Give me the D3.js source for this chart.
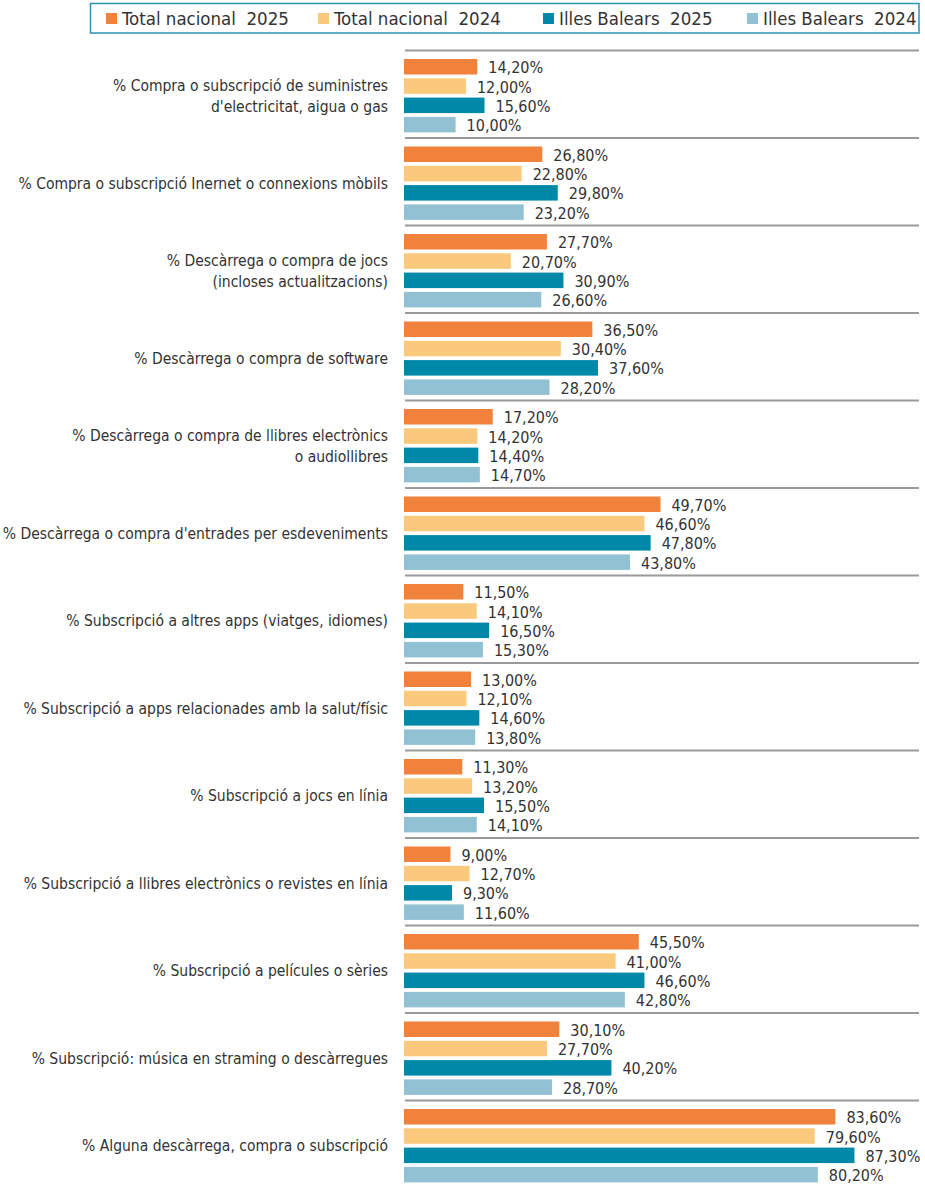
<!DOCTYPE html>
<html>
<head>
<meta charset="utf-8">
<script src="https://cdn.jsdelivr.net/npm/d3@7/dist/d3.min.js"></script>
<style>
  html, body { margin: 0; padding: 0; background: #fff; }
  svg text { font-family: "Liberation Sans Narrow", "DejaVu Sans Condensed", "Arial Narrow", sans-serif; fill: #333; }
</style>
</head>
<body>
<svg id="chart" width="925" height="1185"></svg>
<script>
// Categories (each label may wrap onto two lines)
const categories = [
  ["% Compra o subscripció de suministres", "d'electricitat, aigua o gas"],
  ["% Compra o subscripció Inernet o connexions mòbils"],
  ["% Descàrrega o compra de jocs", "(incloses actualitzacions)"],
  ["% Descàrrega o compra de software"],
  ["% Descàrrega o compra de llibres electrònics", "o audiollibres"],
  ["% Descàrrega o compra d'entrades per esdeveniments"],
  ["% Subscripció a altres apps (viatges, idiomes)"],
  ["% Subscripció a apps relacionades amb la salut/físic"],
  ["% Subscripció a jocs en línia"],
  ["% Subscripció a llibres electrònics o revistes en línia"],
  ["% Subscripció a películes o sèries"],
  ["% Subscripció: música en straming o descàrregues"],
  ["% Alguna descàrrega, compra o subscripció"]
];

const seriesNames = ["Total nacional  2025", "Total nacional  2024", "Illes Balears  2025", "Illes Balears  2024"];
const seriesColors = ["#F0823C", "#FBC97B", "#0088A9", "#92C1D3"];

const nacional2025 = [14.2, 26.8, 27.7, 36.5, 17.2, 49.7, 11.5, 13.0, 11.3, 9.0, 45.5, 30.1, 83.6];
const nacional2024 = [12.0, 22.8, 20.7, 30.4, 14.2, 46.6, 14.1, 12.1, 13.2, 12.7, 41.0, 27.7, 79.6];
const balears2025  = [15.6, 29.8, 30.9, 37.6, 14.4, 47.8, 16.5, 14.6, 15.5, 9.3, 46.6, 40.2, 87.3];
const balears2024  = [10.0, 23.2, 26.6, 28.2, 14.7, 43.8, 15.3, 13.8, 14.1, 11.6, 42.8, 28.7, 80.2];

const seriesValues = [nacional2025, nacional2024, balears2025, balears2024];

const svg = d3.select("#chart");

const plotLeft = 404;
const x = d3.scaleLinear().domain([0, 100]).range([plotLeft, plotLeft + 516]);

const groupIdx = d3.range(categories.length);
const y = d3.scaleBand().domain(groupIdx).range([50, 50 + 87.5 * categories.length]).padding(0);
const ySub = d3.scaleBand().domain(d3.range(4)).range([9, 82.4]).paddingInner(0.197).paddingOuter(0);

const fmt = v => d3.format(".2f")(v).replace(".", ",") + "%";

// Separators at the top of every group
svg.append("g").selectAll("line").data(groupIdx).join("line")
  .attr("x1", plotLeft + 1).attr("x2", 919)
  .attr("y1", d => y(d) + 0.5).attr("y2", d => y(d) + 0.5)
  .attr("stroke", "#9a9a9a").attr("stroke-width", 2);

// Groups
const groups = svg.append("g").selectAll("g").data(groupIdx).join("g")
  .attr("transform", d => `translate(0,${y(d)})`);

const barData = i => seriesValues.map((vals, s) => ({ s, v: vals[i] }));

groups.selectAll("rect").data(barData).join("rect")
  .attr("x", x(0))
  .attr("y", d => ySub(d.s))
  .attr("width", d => x(d.v) - x(0))
  .attr("height", ySub.bandwidth())
  .attr("fill", d => seriesColors[d.s]);

groups.selectAll("text.val").data(barData).join("text")
  .attr("class", "val")
  .attr("x", d => x(d.v) + 11)
  .attr("y", d => ySub(d.s) + ySub.bandwidth() / 2 + 1)
  .attr("dy", "0.35em")
  .attr("font-size", 16)
  .text(d => fmt(d.v));

// Category labels
const centre = ySub(0) + (ySub(3) + ySub.bandwidth() - ySub(0)) / 2;
groups.append("text")
  .attr("class", "cat")
  .attr("text-anchor", "end")
  .attr("font-size", 15.5)
  .each(function(d) {
    const lines = categories[d];
    const t = d3.select(this);
    const lh = 21;
    lines.forEach((ln, k) => {
      t.append("tspan")
        .attr("x", 388)
        .attr("y", centre + (k - (lines.length - 1) / 2) * lh)
        .attr("dy", "0.35em")
        .text(ln);
    });
  });

// Legend
const legend = svg.append("g");
legend.append("rect")
  .attr("x", 90.5).attr("y", 3.5).attr("width", 828.5).attr("height", 29.5)
  .attr("fill", "#fff").attr("stroke", "#2E93AE").attr("stroke-width", 1.5);

const legendX = [106, 318, 543, 747];
const items = legend.selectAll("g").data(seriesNames).join("g")
  .attr("transform", (d, i) => `translate(${legendX[i]},18.5)`);
items.append("rect").attr("x", 0).attr("y", -5.5).attr("width", 11).attr("height", 11)
  .attr("fill", (d, i) => seriesColors[i]);
items.append("text").attr("x", 16).attr("y", 0).attr("dy", "0.35em")
  .attr("font-size", 18.5)
  .attr("xml:space", "preserve")
  .text(d => d);
</script>
</body>
</html>
